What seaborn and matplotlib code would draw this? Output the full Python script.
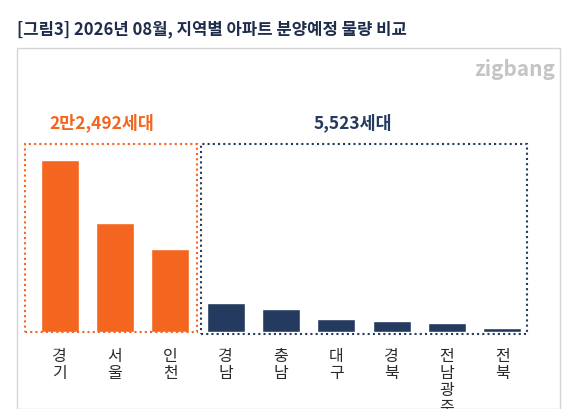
import seaborn as sns
import matplotlib.pyplot as plt
from matplotlib.patches import Rectangle

regions = ['경기', '서울', '인천', '경남', '충남', '대구', '경북', '전남광주', '전북']
units = [10630, 6730, 5130, 1820, 1430, 780, 650, 585, 258]
groups = ['capital'] * 3 + ['local'] * 6
group_labels = ['2만2,492세대', '5,523세대']

ORANGE = '#F4651F'
NAVY = '#243A5E'

sns.set_theme(style='white')
plt.rcParams['font.family'] = ['Noto Sans CJK KR', 'DejaVu Sans']

W, H = 586, 410
fig = plt.figure(figsize=(W / 100, H / 100), dpi=100)

# outer frame and title
fig.patches.append(Rectangle((17 / W, 0), 543 / W, 1 - 49 / H, transform=fig.transFigure,
                             fill=False, edgecolor='#d4d4d4', linewidth=1))
fig.text(17 / W, 1 - 34 / H, '[그림3] 2026년 08월, 지역별 아파트 분양예정 물량 비교',
         fontsize=12, fontweight='bold', color='#1f2d4d')
fig.text(555 / W, 1 - 70 / H, 'zigbang', fontsize=15, color='#c4c4c4',
         ha='right', va='center', fontweight='bold')

ax = fig.add_axes([32 / W, 77 / H, 498 / W, 283 / H])
sns.barplot(x=list(range(len(regions))), y=units, hue=groups,
            palette={'capital': ORANGE, 'local': NAVY}, width=0.69, saturation=1,
            legend=False, ax=ax, native_scale=True)
ax.set_xlim(-0.5, 8.5)
ax.set_ylim(0, 17490)
ax.axis('off')

# vertical (stacked) x labels
for i, r in enumerate(regions):
    ax.text(i, -900, '\n'.join(r), ha='center', va='top', fontsize=11.5,
            color='#2a2a2a', linespacing=1.0, clip_on=False)

box_top = 11620
ax.add_patch(Rectangle((-0.63, 0), 3.12, box_top, fill=False, edgecolor=ORANGE,
                       linestyle=(0, (1, 1.5)), linewidth=1.5, clip_on=False))
ax.add_patch(Rectangle((2.55, -100), 5.9, box_top + 100, fill=False, edgecolor=NAVY,
                       linestyle=(0, (1, 1.5)), linewidth=1.5, clip_on=False))
ax.text(0.77, box_top + 800, group_labels[0], ha='center', va='bottom', fontsize=12.5,
        fontweight='bold', color=ORANGE)
ax.text(5.3, box_top + 800, group_labels[1], ha='center', va='bottom', fontsize=12.5,
        fontweight='bold', color=NAVY)

fig.savefig('out.png', dpi=100)
